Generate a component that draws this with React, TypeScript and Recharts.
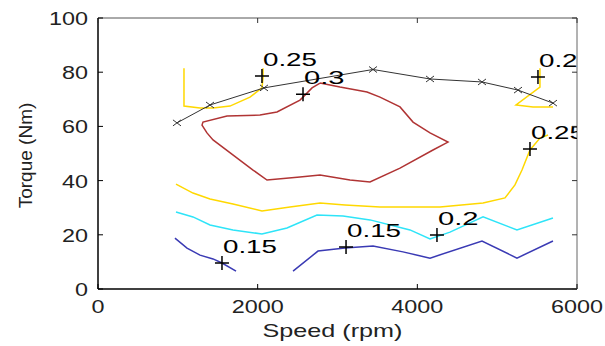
import { ComposedChart, Line, Scatter, XAxis, YAxis } from "recharts";

const FONT = "'Liberation Sans', Arial, sans-serif";

const xTicks = [0, 2000, 4000, 6000];
const yTicks = [0, 20, 40, 60, 80, 100];

// black curve with x markers
const blackX = [989, 1403, 2079, 3445, 4159, 4810, 5261, 5699];
const blackY = [61.3, 67.9, 74.2, 81.0, 77.5, 76.4, 73.4, 68.6];

// 0.25 (yellow) pieces
const yellowTopLeftX = [1077, 1077, 1278, 1441, 1653, 1904, 2054, 2067, 2067];
const yellowTopLeftY = [81.5, 67.5, 66.8, 66.8, 67.5, 70.8, 74.2, 77.9, 81.5];
const yellowTopRightX = [5536, 5536, 5236, 5449, 5699];
const yellowTopRightY = [81.5, 74.5, 67.9, 67.2, 67.2];
const yellowLowX = [977, 1190, 1403, 1691, 2054, 2405, 2781, 3094, 3532, 4284, 4823, 5098, 5223, 5311, 5411, 5536, 5637];
const yellowLowY = [38.7, 35.4, 33.2, 31.4, 28.8, 30.3, 31.7, 31.0, 30.3, 30.3, 31.7, 33.6, 38.4, 43.9, 51.3, 55.7, 56.8];

// 0.2 (cyan)
const cyanX = [977, 1190, 1403, 1691, 2054, 2367, 2743, 3069, 3407, 3908, 4159, 4409, 4660, 4823, 5248, 5699];
const cyanY = [28.4, 26.6, 23.6, 21.8, 20.3, 22.5, 27.3, 26.9, 25.5, 21.8, 18.5, 21.0, 24.4, 26.6, 21.8, 26.2];

// 0.15 (blue)
const blueLeftX = [964, 1115, 1278, 1441, 1553, 1729];
const blueLeftY = [18.8, 15.1, 12.5, 11.1, 9.6, 6.6];
const blueRightX = [2443, 2756, 3094, 3445, 3820, 4159, 4810, 5248, 5699];
const blueRightY = [6.6, 14.0, 15.1, 15.9, 13.7, 11.4, 17.7, 11.4, 17.7];

// 0.3 (red) closed loop
const redX = [2781, 3031, 3370, 3532, 3783, 3946, 4159, 4384, 4196, 3783, 3407, 3157, 2781, 2530, 2117, 1942, 1441, 1365, 1303, 1315, 1616, 2029, 2242, 2530, 2568, 2681, 2781];
const redY = [76.0, 74.5, 72.7, 70.8, 67.2, 61.6, 57.6, 54.2, 51.3, 44.6, 39.5, 40.2, 42.1, 41.3, 40.2, 43.9, 55.0, 57.6, 60.5, 61.6, 63.8, 64.2, 65.3, 69.7, 70.8, 74.2, 76.0];

// contour labels
const labelX = [2054, 2568, 5511, 5411, 1553, 3107, 4246];
const labelY = [78.6, 71.9, 78.2, 51.7, 9.6, 15.5, 19.9];
const labelText = ["0.25", "0.3", "0.25", "0.25", "0.15", "0.15", "0.2"];

const pts = (xs: number[], ys: number[]) => xs.map((x, i) => ({ x, y: ys[i] }));
const labels = labelX.map((x, i) => ({ x, y: labelY[i], label: labelText[i] }));

const CW = 13.5; // stretched glyph width

function BottomTick({ x, y, payload }: any) {
  const s = String(payload.value);
  return (
    <g>
      <line x1={x} y1={y} x2={x} y2={y - 5} stroke="#000" />
      <text x={x} y={y + 24} textAnchor="middle" fontSize={19} fontFamily={FONT} fill="#222" textLength={s.length * 13} lengthAdjust="spacingAndGlyphs">{s}</text>
    </g>
  );
}

function LeftTick({ x, y, payload }: any) {
  const s = String(payload.value);
  return (
    <g>
      <line x1={x} y1={y} x2={x + 5} y2={y} stroke="#000" />
      <text x={x - 10} y={y + 7} textAnchor="end" fontSize={19} fontFamily={FONT} fill="#222" textLength={s.length * 13} lengthAdjust="spacingAndGlyphs">{s}</text>
    </g>
  );
}

function TopTick({ x, y }: any) {
  return <line x1={x} y1={y} x2={x} y2={y + 5} stroke="#333" />;
}

function RightTick({ x, y }: any) {
  return <line x1={x} y1={y} x2={x - 5} y2={y} stroke="#333" />;
}

function XTitle({ viewBox }: any) {
  const cx = viewBox.x + viewBox.width / 2 - 5;
  return (
    <text x={cx} y={viewBox.y + 48} textAnchor="middle" fontSize={19} fontFamily={FONT} fill="#222" textLength={140} lengthAdjust="spacingAndGlyphs">Speed (rpm)</text>
  );
}

function YTitle({ viewBox }: any) {
  const cy = viewBox.y + viewBox.height / 2;
  return (
    <text x={32} y={cy + 2} transform={`rotate(-90 32 ${cy + 2})`} textAnchor="middle" fontSize={19} fontFamily={FONT} fill="#222">Torque (Nm)</text>
  );
}

function XMark({ cx, cy }: any) {
  if (cx == null) return null;
  return <path d={`M${cx - 4},${cy - 3}L${cx + 4},${cy + 3}M${cx - 4},${cy + 3}L${cx + 4},${cy - 3}`} stroke="#333" strokeWidth={1} fill="none" />;
}

function PlusLabel({ cx, cy, payload }: any) {
  const s = payload.label as string;
  return (
    <g>
      <path d={`M${cx - 7},${cy}H${cx + 7}M${cx},${cy - 7}V${cy + 7}`} stroke="#000" strokeWidth={1.5} />
      <text x={cx + 1} y={cy - 10} fontSize={19} fontFamily={FONT} fill="#000" textLength={s.length * CW} lengthAdjust="spacingAndGlyphs">{s}</text>
    </g>
  );
}

const curves = [
  { name: "yellowTL", data: pts(yellowTopLeftX, yellowTopLeftY), color: "#ffd800" },
  { name: "yellowTR", data: pts(yellowTopRightX, yellowTopRightY), color: "#ffd800" },
  { name: "yellowLow", data: pts(yellowLowX, yellowLowY), color: "#ffd800" },
  { name: "cyan", data: pts(cyanX, cyanY), color: "#2ee4f8" },
  { name: "blueL", data: pts(blueLeftX, blueLeftY), color: "#3a3ab4" },
  { name: "blueR", data: pts(blueRightX, blueRightY), color: "#3a3ab4" },
  { name: "red", data: pts(redX, redY), color: "#b03434" },
];

export default function App() {
  return (
    <div style={{ position: "absolute", left: 0, top: 0, width: 605, height: 346, background: "#fff" }}>
      <ComposedChart width={605} height={346} margin={{ top: 8, right: 18, bottom: 27, left: 38 }}>
        <XAxis xAxisId="b" type="number" dataKey="x" domain={[0, 6000]} ticks={xTicks} allowDataOverflow
          height={30} tickSize={0} tickMargin={0} tickLine={false} tick={<BottomTick />} stroke="#000" strokeWidth={1.5} label={<XTitle />} />
        <XAxis xAxisId="t" orientation="top" type="number" dataKey="x" domain={[0, 6000]} ticks={xTicks} allowDataOverflow
          height={10} tickSize={0} tickMargin={0} tickLine={false} tick={<TopTick />} stroke="#555" />
        <YAxis yAxisId="l" type="number" dataKey="y" domain={[0, 100]} ticks={yTicks} allowDataOverflow
          width={60} tickSize={0} tickMargin={0} tickLine={false} tick={<LeftTick />} stroke="#000" strokeWidth={1.5} label={<YTitle />} />
        <YAxis yAxisId="r" orientation="right" type="number" dataKey="y" domain={[0, 100]} ticks={yTicks} allowDataOverflow
          width={10} tickSize={0} tickMargin={0} tickLine={false} tick={<RightTick />} stroke="#666" />
        {curves.map((c) => (
          <Line key={c.name} xAxisId="b" yAxisId="l" data={c.data} dataKey="y" type="linear" stroke={c.color}
            strokeWidth={1.5} dot={false} isAnimationActive={false} />
        ))}
        <Line xAxisId="b" yAxisId="l" data={pts(blackX, blackY)} dataKey="y" type="linear" stroke="#333"
          strokeWidth={1} dot={<XMark />} isAnimationActive={false} />
        <Scatter xAxisId="b" yAxisId="l" data={labels} dataKey="y" shape={<PlusLabel />} isAnimationActive={false} />
      </ComposedChart>
    </div>
  );
}
